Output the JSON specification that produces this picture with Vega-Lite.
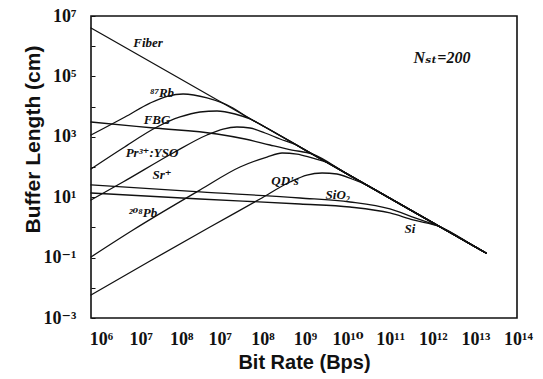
{
  "$schema": "https://vega.github.io/schema/vega-lite/v6.json",
  "width": 426,
  "height": 302,
  "autosize": {"type": "none"},
  "padding": {"left": 91, "top": 16, "right": 26, "bottom": 61},
  "background": "white",
  "config": {"view": {"stroke": "#111", "strokeWidth": 1.6}},
  "encoding": {
    "x": {
      "field": "x", "type": "quantitative",
      "scale": {"type": "log", "domain": [1e4, 1e14], "nice": false},
      "axis": {
        "title": "Bit Rate (Bps)",
        "values": [1e4, 1e5, 1e6, 1e7, 1e8, 1e9, 1e10, 1e11, 1e12, 1e13, 1e14],
        "labelExpr": "['10⁶','10⁷','10⁸','10⁷','10⁸','10⁹','10¹⁰','10¹¹','10¹²','10¹³','10¹⁴'][round(log(datum.value)/LN10)-4]",
        "ticks": false, "tickSize": 0, "domain": false, "grid": false,
        "labelFont": "Liberation Serif, DejaVu Serif", "labelFontWeight": "bold", "labelFontSize": 18, "labelColor": "#111",
        "labelPadding": 12, "labelFlush": false, "labelOverlap": false, "labelBound": false,
        "labelOffset": {"condition": [{"test": "datum.value < 2e4", "value": 10}, {"test": "datum.value < 2e5", "value": 7}, {"test": "datum.value < 2e6", "value": 5}], "value": 1},
        "titleFont": "Liberation Sans", "titleFontSize": 20, "titleFontWeight": "bold", "titleColor": "#111",
        "titleY": 50, "titleBaseline": "alphabetic"
      }
    },
    "y": {
      "field": "y", "type": "quantitative",
      "scale": {"type": "log", "domain": [1e-3, 1e7], "nice": false},
      "axis": {
        "title": "Buffer Length (cm)",
        "values": [1e-3, 1e-2, 1e-1, 1, 1e1, 1e2, 1e3, 1e4, 1e5, 1e6, 1e7],
        "labelExpr": "['10⁻³','','10⁻¹','','10¹','','10³','','10⁵','','10⁷'][round(log(datum.value)/LN10)+3]",
        "ticks": true, "tickSize": -4, "tickColor": "#111", "tickWidth": 1, "domain": false, "grid": false,
        "labelFont": "Liberation Serif, DejaVu Serif", "labelFontWeight": "bold", "labelFontSize": 18, "labelColor": "#111",
        "labelPadding": 19, "labelBaseline": "middle", "labelFlush": false, "labelOverlap": false, "labelBound": false,
        "titleFont": "Liberation Sans", "titleFontSize": 21, "titleFontWeight": "bold", "titleColor": "#111",
        "titleX": -52, "titleY": 123, "titleBaseline": "alphabetic", "titleAlign": "center", "titleAngle": 270
      }
    }
  },
  "layer": [
    {
      "data": {"values": [
        {"s": "Fiber", "x": 1e4, "y": 4.01e6}, {"s": "Fiber", "x": 1e6, "y": 9.9e4}, {"s": "Fiber", "x": 1e8, "y": 2449}, {"s": "Fiber", "x": 1e10, "y": 60.4}, {"s": "Fiber", "x": 1e12, "y": 1.49}, {"s": "Fiber", "x": 1.87e13, "y": 0.142},

        {"s": "87Rb", "x": 1e4, "y": 1148}, {"s": "87Rb", "x": 6.28e4, "y": 4530}, {"s": "87Rb", "x": 2.43e5, "y": 13100}, {"s": "87Rb", "x": 6.43e5, "y": 22400}, {"s": "87Rb", "x": 1.45e6, "y": 26100}, {"s": "87Rb", "x": 5.28e6, "y": 19300}, {"s": "87Rb", "x": 2.15e7, "y": 9000}, {"s": "87Rb", "x": 4.59e7, "y": 4530}, {"s": "87Rb", "x": 1e8, "y": 2449}, {"s": "87Rb", "x": 1e9, "y": 385}, {"s": "87Rb", "x": 1e10, "y": 60.4}, {"s": "87Rb", "x": 1e11, "y": 9.51}, {"s": "87Rb", "x": 1e12, "y": 1.49}, {"s": "87Rb", "x": 1e13, "y": 0.235}, {"s": "87Rb", "x": 1.87e13, "y": 0.142},

        {"s": "Pr:YSO", "x": 1e4, "y": 85.9}, {"s": "Pr:YSO", "x": 5.64e4, "y": 426}, {"s": "Pr:YSO", "x": 3.54e5, "y": 2113}, {"s": "Pr:YSO", "x": 1.23e6, "y": 4530}, {"s": "Pr:YSO", "x": 3.62e6, "y": 6620}, {"s": "Pr:YSO", "x": 9.08e6, "y": 7140}, {"s": "Pr:YSO", "x": 2.4e7, "y": 5690}, {"s": "Pr:YSO", "x": 5.4e7, "y": 3880}, {"s": "Pr:YSO", "x": 1.22e8, "y": 2113}, {"s": "Pr:YSO", "x": 1e9, "y": 385}, {"s": "Pr:YSO", "x": 1e10, "y": 60.4}, {"s": "Pr:YSO", "x": 1e11, "y": 9.51}, {"s": "Pr:YSO", "x": 1e12, "y": 1.49}, {"s": "Pr:YSO", "x": 1e13, "y": 0.235}, {"s": "Pr:YSO", "x": 1.87e13, "y": 0.142},

        {"s": "FBG", "x": 1e4, "y": 3090}, {"s": "FBG", "x": 3.01e5, "y": 1955}, {"s": "FBG", "x": 9.08e6, "y": 1239}, {"s": "FBG", "x": 4.12e7, "y": 845}, {"s": "FBG", "x": 1.59e8, "y": 535}, {"s": "FBG", "x": 5.22e8, "y": 365}, {"s": "FBG", "x": 1.54e9, "y": 271}, {"s": "FBG", "x": 1e10, "y": 60.4}, {"s": "FBG", "x": 1e11, "y": 9.51}, {"s": "FBG", "x": 1e12, "y": 1.49}, {"s": "FBG", "x": 1e13, "y": 0.235}, {"s": "FBG", "x": 1.87e13, "y": 0.142},

        {"s": "Sr+", "x": 1e4, "y": 8.07}, {"s": "Sr+", "x": 5.64e4, "y": 31.8}, {"s": "Sr+", "x": 8.41e5, "y": 291}, {"s": "Sr+", "x": 5.28e6, "y": 1148}, {"s": "Sr+", "x": 1.26e7, "y": 1811}, {"s": "Sr+", "x": 2.67e7, "y": 2113}, {"s": "Sr+", "x": 5.4e7, "y": 1955}, {"s": "Sr+", "x": 1.22e8, "y": 1337}, {"s": "Sr+", "x": 2.74e8, "y": 845}, {"s": "Sr+", "x": 6.49e8, "y": 545}, {"s": "Sr+", "x": 1e9, "y": 385}, {"s": "Sr+", "x": 1e10, "y": 60.4}, {"s": "Sr+", "x": 1e11, "y": 9.51}, {"s": "Sr+", "x": 1e12, "y": 1.49}, {"s": "Sr+", "x": 1e13, "y": 0.235}, {"s": "Sr+", "x": 1.87e13, "y": 0.142},

        {"s": "208Pb", "x": 1e4, "y": 0.105}, {"s": "208Pb", "x": 9.68e4, "y": 0.82}, {"s": "208Pb", "x": 3.62e6, "y": 17.3}, {"s": "208Pb", "x": 3.15e7, "y": 100}, {"s": "208Pb", "x": 1.35e8, "y": 214}, {"s": "208Pb", "x": 3.05e8, "y": 291}, {"s": "208Pb", "x": 6.85e8, "y": 269}, {"s": "208Pb", "x": 1.54e9, "y": 199}, {"s": "208Pb", "x": 3.47e9, "y": 142}, {"s": "208Pb", "x": 1e10, "y": 60.4}, {"s": "208Pb", "x": 1e11, "y": 9.51}, {"s": "208Pb", "x": 1e12, "y": 1.49}, {"s": "208Pb", "x": 1e13, "y": 0.235}, {"s": "208Pb", "x": 1.87e13, "y": 0.142},

        {"s": "QDs", "x": 1e4, "y": 0.00578}, {"s": "QDs", "x": 2.43e5, "y": 0.0771}, {"s": "QDs", "x": 6.21e6, "y": 1.03}, {"s": "QDs", "x": 9.27e7, "y": 8.71}, {"s": "QDs", "x": 4.69e8, "y": 31.8}, {"s": "QDs", "x": 1.17e9, "y": 54.3}, {"s": "QDs", "x": 2.65e9, "y": 63.3}, {"s": "QDs", "x": 5.96e9, "y": 58.6}, {"s": "QDs", "x": 1.34e10, "y": 40.1}, {"s": "QDs", "x": 3.01e10, "y": 24.9}, {"s": "QDs", "x": 1e11, "y": 9.51}, {"s": "QDs", "x": 1e12, "y": 1.49}, {"s": "QDs", "x": 1e13, "y": 0.235}, {"s": "QDs", "x": 1.87e13, "y": 0.142},

        {"s": "SiO2", "x": 1e4, "y": 25.4}, {"s": "SiO2", "x": 3.62e6, "y": 14.9}, {"s": "SiO2", "x": 8.05e8, "y": 9.42}, {"s": "SiO2", "x": 1.2e10, "y": 6.93}, {"s": "SiO2", "x": 1.04e11, "y": 4.07}, {"s": "SiO2", "x": 4.04e11, "y": 2.05}, {"s": "SiO2", "x": 1.56e12, "y": 1.05}, {"s": "SiO2", "x": 1e13, "y": 0.235}, {"s": "SiO2", "x": 1.87e13, "y": 0.142},

        {"s": "Si", "x": 1e4, "y": 13.8}, {"s": "Si", "x": 3.62e6, "y": 8.71}, {"s": "Si", "x": 8.05e8, "y": 5.96}, {"s": "Si", "x": 1.2e10, "y": 4.73}, {"s": "Si", "x": 1.04e11, "y": 3.0}, {"s": "Si", "x": 3.62e11, "y": 1.76}, {"s": "Si", "x": 1.56e12, "y": 1.05}, {"s": "Si", "x": 1e13, "y": 0.235}, {"s": "Si", "x": 1.87e13, "y": 0.142}
      ]},
      "mark": {"type": "line", "interpolate": "monotone", "color": "#111", "strokeCap": "round", "strokeJoin": "round"},
      "encoding": {
        "detail": {"field": "s", "type": "nominal"},
        "strokeWidth": {
          "field": "s", "type": "nominal", "legend": null,
          "scale": {"domain": ["Fiber", "87Rb", "Pr:YSO", "FBG", "Sr+", "208Pb", "QDs", "SiO2", "Si"], "range": [1.3, 1.3, 3, 1.7, 1.2, 1.2, 1.2, 1.3, 1.3]}
        }
      }
    },
    {
      "data": {"values": [
        {"t": "Fiber", "x": 2.18e5, "y": 1.28e6},
        {"t": "⁸⁷Rb", "x": 4.64e5, "y": 2.82e4},
        {"t": "FBG", "x": 3.54e5, "y": 3600},
        {"t": "Pr³⁺:YSO", "x": 2.7e5, "y": 291},
        {"t": "Sr⁺", "x": 4.64e5, "y": 54.3},
        {"t": "²⁰⁸Pb", "x": 1.66e5, "y": 3.0},
        {"t": "QD's", "x": 3.58e8, "y": 34.4},
        {"t": "SiO₂", "x": 6.28e9, "y": 11.8},
        {"t": "Si", "x": 3.08e11, "y": 0.885}
      ]},
      "mark": {"type": "text", "font": "Liberation Serif, DejaVu Serif", "fontStyle": "italic", "fontWeight": "bold", "fontSize": 13, "color": "#111", "align": "center", "baseline": "middle"},
      "encoding": {"text": {"field": "t", "type": "nominal"}}
    },
    {
      "data": {"values": [{"t": "Nₛₜ=200", "x": 1.73e12, "y": 4.06e5}]},
      "mark": {"type": "text", "font": "Liberation Serif, DejaVu Serif", "fontStyle": "italic", "fontWeight": "bold", "fontSize": 16, "color": "#111", "align": "center", "baseline": "middle"},
      "encoding": {"text": {"field": "t", "type": "nominal"}}
    }
  ]
}
